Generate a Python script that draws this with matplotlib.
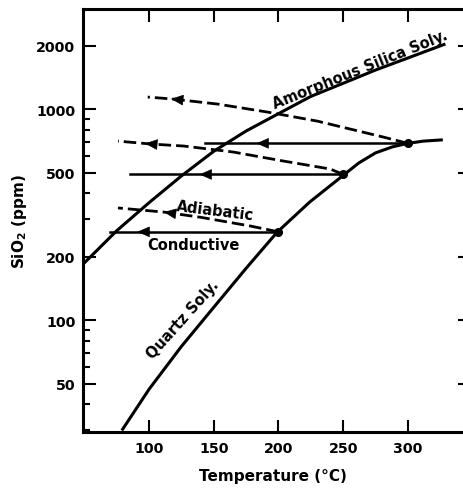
import matplotlib
matplotlib.use("Agg")
import matplotlib.pyplot as plt
from matplotlib.ticker import FixedLocator, FixedFormatter, NullFormatter
import numpy as np

# solubility curves (temperature in C, SiO2 in ppm)
amorph_t = [49, 75, 100, 125, 150, 175, 200, 225, 250, 275, 300, 329]
amorph_ppm = [184, 265, 360, 482, 631, 787, 951, 1148, 1325, 1531, 1746, 2035]

quartz_t = [79, 100, 125, 150, 175, 199, 224, 250, 262, 275, 288, 300, 312, 327]
quartz_ppm = [30, 47, 75, 115, 176, 261, 362, 485, 555, 620, 662, 688, 705, 715]

# reservoir starting points on the quartz curve
start_t = [200, 250, 300]
start_ppm = [262, 490, 688]

# conductive cooling (horizontal): end temperature and arrowhead position
cond_end_t = [70, 85, 143]
cond_head_t = [91, 139, 183]

# adiabatic (flashing) paths
adia1_t = [200, 178.5, 140, 111.5, 76]
adia1_ppm = [262, 279, 307, 325, 340]
adia2_t = [250, 240, 204, 165, 127, 101.5, 76]
adia2_ppm = [490, 520, 567, 626, 668, 683, 705]
adia3_t = [300, 281, 230, 191.5, 153, 119, 99]
adia3_ppm = [688, 737, 877, 968, 1056, 1115, 1140]
adia_head_t = [111.5, 97, 117]

x_ticks = [100, 150, 200, 250, 300]
y_ticks = [50, 100, 200, 500, 1000, 2000]
y_minor = [30, 40, 60, 70, 80, 90, 300, 400, 600, 700, 800, 900]

plt.rcParams["font.family"] = "DejaVu Sans"
plt.rcParams["font.weight"] = "bold"
plt.rcParams["mathtext.default"] = "bf"

fig = plt.figure(figsize=(4.64, 4.89), dpi=100)
ax = fig.add_axes([83 / 464, 56 / 489, 387 / 464, 423 / 489])
ax.set_yscale("log")
ax.set_xlim(49, 348)
ax.set_ylim(29.5, 2980)


def _arrowhead(t_path, ppm_path, t_tip):
    # filled arrowhead sitting on a path, pointing toward lower temperature
    t_path = np.asarray(t_path, dtype=float)
    logp = np.log10(np.asarray(ppm_path, dtype=float))
    order = np.argsort(t_path)
    tip = 10 ** np.interp(t_tip, t_path[order], logp[order])
    tail = 10 ** np.interp(t_tip + 5, t_path[order], logp[order])
    ax.annotate(
        "",
        xy=(t_tip, tip),
        xytext=(t_tip + 5, tail),
        arrowprops=dict(arrowstyle="-|>,head_length=0.8,head_width=0.35",
                        color="black", lw=0.5, shrinkA=0, shrinkB=0),
    )


ax.plot(amorph_t, amorph_ppm, color="black", lw=2.2, solid_capstyle="butt")
ax.plot(quartz_t, quartz_ppm, color="black", lw=2.2, solid_capstyle="butt")

for t0, p0, t1, th in zip(start_t, start_ppm, cond_end_t, cond_head_t):
    ax.plot([t0, t1], [p0, p0], color="black", lw=1.8)
    _arrowhead([t1, t0], [p0, p0], th)

for path_t, path_p, th in zip([adia1_t, adia2_t, adia3_t],
                              [adia1_ppm, adia2_ppm, adia3_ppm], adia_head_t):
    ax.plot(path_t, path_p, color="black", lw=2.0, dashes=(4.5, 1.8))
    _arrowhead(path_t, path_p, th)

ax.plot(start_t, start_ppm, "o", color="black", markersize=5.5)

ax.text(264.5, 1481, "Amorphous Silica Soly.", rotation=22, rotation_mode="anchor",
        ha="center", va="baseline", fontsize=10.5, fontweight="bold")
ax.text(126, 101, "Quartz Soly.", rotation=48, rotation_mode="anchor",
        ha="center", va="center", fontsize=10.5, fontweight="bold")
ax.text(151, 332, "Adiabatic", rotation=-7, rotation_mode="anchor",
        ha="center", va="center", fontsize=10.5, fontweight="bold")
ax.text(134, 227, "Conductive", ha="center", va="center",
        fontsize=10.5, fontweight="bold")

ax.xaxis.set_major_locator(FixedLocator(x_ticks))
ax.xaxis.set_minor_locator(FixedLocator([]))
ax.yaxis.set_major_locator(FixedLocator(y_ticks))
ax.yaxis.set_major_formatter(FixedFormatter([str(v) for v in y_ticks]))
ax.yaxis.set_minor_locator(FixedLocator(y_minor))
ax.yaxis.set_minor_formatter(NullFormatter())

ax.tick_params(which="both", direction="in", top=True, right=True,
               width=1.5, labelsize=10.3)
ax.tick_params(which="major", length=9)
ax.tick_params(which="minor", length=5)
ax.tick_params(axis="y", pad=5.5)
ax.tick_params(axis="x", pad=6.5)
for label in ax.get_xticklabels() + ax.get_yticklabels():
    label.set_fontweight("bold")

for side in ("left", "bottom", "top", "right"):
    ax.spines[side].set_linewidth(2.2)

ax.set_xlabel("Temperature (°C)", fontsize=11, fontweight="bold")
ax.set_ylabel("SiO$_2$ (ppm)", fontsize=11, fontweight="bold")
ax.xaxis.set_label_coords(0.49, -0.085)
ax.yaxis.set_label_coords(-0.14, 0.5)

fig.savefig("out.png", dpi=100)
